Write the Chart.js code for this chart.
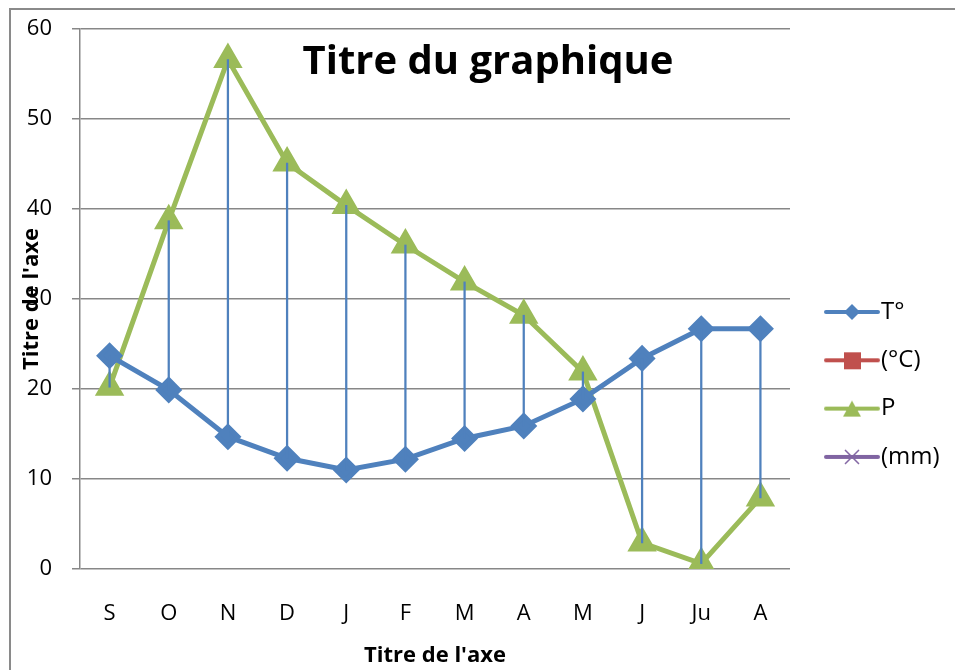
<!DOCTYPE html>
<html>
<head>
<meta charset="utf-8">
<script src="https://cdn.jsdelivr.net/npm/chart.js@4.4.1/dist/chart.umd.min.js"></script>
<style>
  html, body { margin: 0; padding: 0; background: #fff; overflow: hidden; }
  #frame { position: absolute; left: 9px; top: 8px; width: 980px; height: 700px; border: 2px solid #8a8a8a; }
  #wrap { position: absolute; left: 0; top: 0; width: 955px; height: 670px; }
</style>
</head>
<body>
<div id="frame"></div>
<div id="wrap"><canvas id="graph"></canvas></div>
<script>
const mois = ['S', 'O', 'N', 'D', 'J', 'F', 'M', 'A', 'M', 'J', 'Ju', 'A'];
const temperatures = [23.7, 19.9, 14.7, 12.3, 11.0, 12.2, 14.5, 15.9, 18.9, 23.4, 26.7, 26.7];
const precipitations = [20.2, 38.7, 56.6, 45.1, 40.4, 36.0, 31.9, 28.2, 21.9, 2.9, 0.6, 7.9];
const seuilsY = [0, 10, 20, 30, 40, 50, 60];

const police = '"Open Sans", Lato, sans-serif';
const bleu = '#4f81bd', rouge = '#c0504d', vert = '#9bbb59', violet = '#8064a2';

// lignes haut-bas entre les deux séries
const hautBas = temperatures.map((t, i) => [Math.min(t, precipitations[i]), Math.max(t, precipitations[i])]);

// petites images pour la légende (trait + marqueur)
function marqueur(couleur, forme) {
    const c = document.createElement('canvas');
    c.width = 56; c.height = 22;
    const g = c.getContext('2d');
    g.strokeStyle = couleur; g.fillStyle = couleur;
    g.lineWidth = 4; g.lineCap = 'round';
    g.beginPath(); g.moveTo(2, 11); g.lineTo(54, 11); g.stroke();
    g.beginPath();
    if (forme === 'losange') {
        g.moveTo(28, 3); g.lineTo(36, 11); g.lineTo(28, 19); g.lineTo(20, 11); g.closePath(); g.fill();
    } else if (forme === 'carre') {
        g.fillRect(20, 3, 17, 17);
    } else if (forme === 'triangle') {
        g.moveTo(28, 3); g.lineTo(37, 19); g.lineTo(19, 19); g.closePath(); g.fill();
    } else {
        g.lineWidth = 1.5; g.lineCap = 'butt';
        g.moveTo(21, 4); g.lineTo(35, 18); g.moveTo(35, 4); g.lineTo(21, 18); g.stroke();
    }
    return c;
}

const legendePlugin = {
    id: 'legendeEtTitres',
    afterDraw(chart) {
        const ctx = chart.ctx;
        ctx.save();
        // titre du graphique
        ctx.fillStyle = '#000';
        ctx.font = 'bold 40px ' + police;
        ctx.textAlign = 'center';
        ctx.textBaseline = 'alphabetic';
        ctx.fillText('Titre du graphique', 488, 74);
        // titre de l'axe vertical
        ctx.save();
        ctx.translate(32, 299);
        ctx.rotate(-Math.PI / 2);
        ctx.font = 'bold 22px ' + police;
        ctx.textBaseline = 'middle';
        ctx.fillText("Titre de l'axe", 0, 0);
        ctx.restore();
        // légende
        ctx.font = '24px ' + police;
        ctx.textAlign = 'left';
        ctx.textBaseline = 'middle';
        chart.data.datasets.forEach(ds => {
            if (!ds.image) return;
            const y = 312 + ds.rang * 48.3;
            ctx.drawImage(ds.image, 824, y - 11);
            ctx.fillStyle = '#000';
            ctx.fillText(ds.label, 881, y);
        });
        ctx.restore();
    }
};

new Chart(document.getElementById('graph'), {
    type: 'line',
    data: {
        labels: mois,
        datasets: [
            {
                type: 'bar', label: 'hautbas', data: hautBas,
                backgroundColor: bleu, barThickness: 1.6, order: 0
            },
            {
                label: 'T°', data: temperatures, rang: 0, image: marqueur(bleu, 'losange'),
                borderColor: bleu, backgroundColor: bleu, borderWidth: 5,
                pointStyle: 'rectRot', pointRadius: 10, pointHoverRadius: 10, order: 1
            },
            {
                label: '(°C)', data: [], rang: 1, image: marqueur(rouge, 'carre'),
                borderColor: rouge, backgroundColor: rouge, order: 2
            },
            {
                label: 'P', data: precipitations, rang: 2, image: marqueur(vert, 'triangle'),
                borderColor: vert, backgroundColor: vert, borderWidth: 5,
                pointStyle: 'triangle', pointRadius: 12, pointHoverRadius: 12, order: 1
            },
            {
                label: '(mm)', data: [], rang: 3, image: marqueur(violet, 'croix'),
                borderColor: violet, backgroundColor: violet, order: 2
            }
        ]
    },
    options: {
        responsive: true,
        maintainAspectRatio: false,
        animation: false,
        layout: { padding: { left: 0, top: 29, right: 165, bottom: 0 } },
        plugins: {
            legend: { display: false },
            tooltip: { enabled: false }
        },
        scales: {
            x: {
                offset: true,
                grid: { display: false },
                border: { display: false },
                ticks: { color: '#000', padding: 24, font: { family: police, size: 22 } },
                title: {
                    display: true, text: "Titre de l'axe", color: '#000',
                    padding: { top: 0, bottom: 1 },
                    font: { family: police, size: 22, weight: 'bold' }
                },
                afterFit(scale) { scale.height = 101; scale.paddingLeft = 0; scale.paddingRight = 0; }
            },
            y: {
                min: 0, max: 60,
                afterBuildTicks(scale) { scale.ticks = seuilsY.map(v => ({ value: v })); },
                grid: { color: '#878787', lineWidth: 1.5, tickLength: 8 },
                border: { color: '#878787', width: 1.5 },
                ticks: { color: '#000', padding: 20, font: { family: police, size: 22 } },
                afterFit(scale) { scale.width = 80; scale.paddingTop = 0; scale.paddingBottom = 0; }
            }
        }
    },
    plugins: [legendePlugin]
});
</script>
</body>
</html>
